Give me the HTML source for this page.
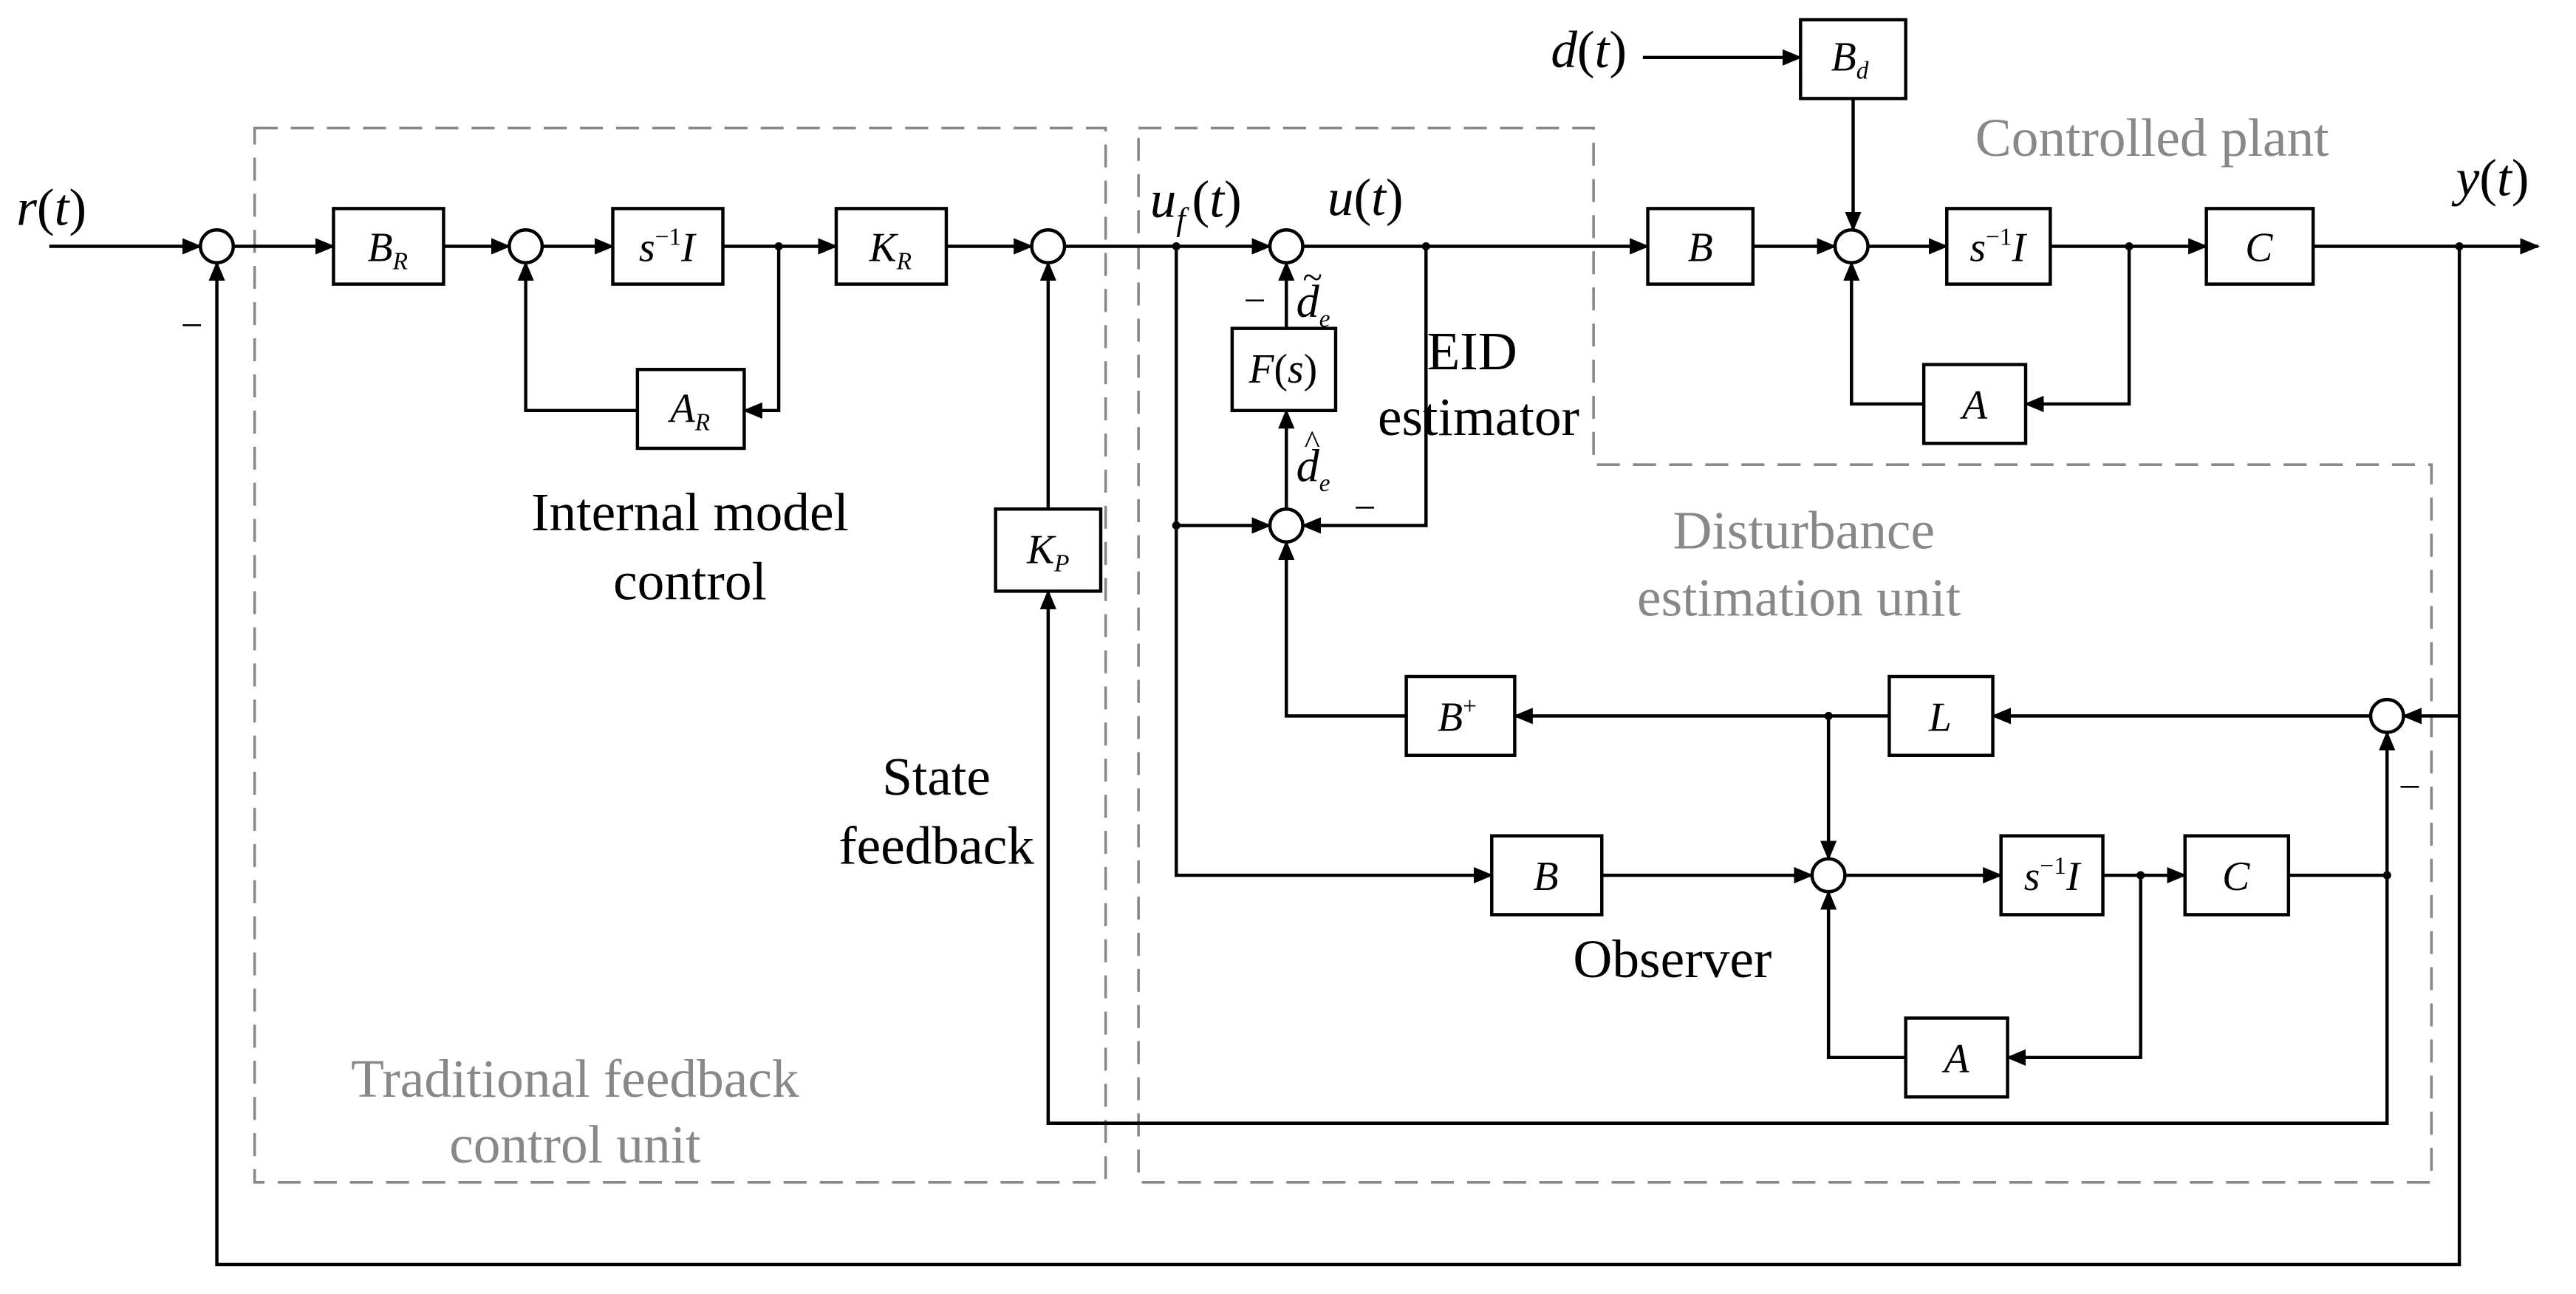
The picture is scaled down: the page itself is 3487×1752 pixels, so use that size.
<!DOCTYPE html>
<html><head><meta charset="utf-8"><style>
html,body{margin:0;padding:0;background:#fff;}
svg{display:block;width:3487px;height:1752px;}
text{font-family:"Liberation Serif",serif;}
</style></head><body>
<svg viewBox="0 0 1568 788" preserveAspectRatio="none" xmlns="http://www.w3.org/2000/svg">
<defs><marker id="a" markerWidth="12" markerHeight="10" refX="11" refY="5" orient="auto" markerUnits="userSpaceOnUse"><path d="M0,0 L12,5 L0,10 z" fill="#000"/></marker></defs>
<rect width="1568" height="788" fill="#fff"/>
<g fill="none" stroke="#888" stroke-width="1.6" stroke-dasharray="14,8">
<rect x="155" y="78" width="518" height="642"/>
<path d="M693,78 H970 V283 H1480 V720 H693 Z"/>
</g>
<g stroke="#000" stroke-width="2" fill="none">
<circle cx="132" cy="150" r="10"/><circle cx="320" cy="150" r="10"/><circle cx="638" cy="150" r="10"/>
<circle cx="783" cy="150" r="10"/><circle cx="1127" cy="150" r="10"/><circle cx="783" cy="320" r="10"/>
<circle cx="1113" cy="533" r="10"/><circle cx="1453" cy="436" r="10"/>
<rect x="203" y="127" width="67" height="46"/><rect x="373" y="127" width="67" height="46"/>
<rect x="509" y="127" width="67" height="46"/><rect x="388" y="225" width="65" height="48"/>
<rect x="606" y="310" width="64" height="50"/><rect x="750" y="200" width="63" height="50"/>
<rect x="1003" y="127" width="64" height="46"/><rect x="1185" y="127" width="63" height="46"/>
<rect x="1343" y="127" width="65" height="46"/><rect x="1171" y="222" width="62" height="48"/>
<rect x="1096" y="12" width="64" height="48"/><rect x="856" y="412" width="66" height="48"/>
<rect x="1150" y="412" width="63" height="48"/><rect x="908" y="509" width="67" height="48"/>
<rect x="1218" y="509" width="62" height="48"/><rect x="1330" y="509" width="63" height="48"/>
<rect x="1160" y="620" width="62" height="48"/>
</g>
<g stroke="#000" stroke-width="2" fill="none" marker-end="url(#a)">
<path d="M30,150 H122"/><path d="M142,150 H203"/><path d="M270,150 H310"/><path d="M330,150 H373"/>
<path d="M440,150 H509"/><path d="M474,150 V250 H453"/><path d="M388,250 H320 V160"/>
<path d="M576,150 H628"/><path d="M638,310 V160"/><path d="M1453,533 V684 H638 V360"/>
<path d="M1497,150 V770 H132 V160"/>
<path d="M648,150 H773"/><path d="M716,150 V533 H908"/><path d="M716,320 H773"/>
<path d="M793,150 H1003"/><path d="M868,150 V320 H793"/>
<path d="M783,310 V250"/><path d="M783,200 V160"/>
<path d="M1067,150 H1117"/><path d="M1128,60 V140"/><path d="M1000,35 H1096"/>
<path d="M1137,150 H1185"/><path d="M1248,150 H1343"/><path d="M1296,150 V246 H1233"/><path d="M1171,246 H1127 V160"/>
<path d="M1408,150 H1545"/>
<path d="M1497,436 H1463"/><path d="M1443,436 H1213"/><path d="M1150,436 H922"/><path d="M1113,436 V523"/>
<path d="M856,436 H783 V330"/>
<path d="M975,533 H1103"/><path d="M1123,533 H1218"/><path d="M1280,533 H1330"/>
<path d="M1303,533 V644 H1222"/><path d="M1160,644 H1113 V543"/>
<path d="M1393,533 H1453 V446"/>
</g>
<g fill="#000"><circle cx="474" cy="150" r="2.5"/><circle cx="716" cy="150" r="2.5"/><circle cx="716" cy="320" r="2.5"/><circle cx="868" cy="150" r="2.5"/><circle cx="1296" cy="150" r="2.5"/><circle cx="1497" cy="150" r="2.5"/><circle cx="1113" cy="436" r="2.5"/><circle cx="1303" cy="533" r="2.5"/><circle cx="1453" cy="533" r="2.5"/></g>
<g font-size="25" font-style="italic" text-anchor="middle">
<text x="236" y="159">B<tspan font-size="15" dy="5">R</tspan></text>
<text x="406" y="159">s<tspan font-size="15" dy="-10" font-style="normal">−1</tspan><tspan dy="10">I</tspan></text>
<text x="542" y="159">K<tspan font-size="15" dy="5">R</tspan></text>
<text x="420" y="257">A<tspan font-size="15" dy="5">R</tspan></text>
<text x="638" y="343">K<tspan font-size="15" dy="5">P</tspan></text>
<text x="781" y="233"><tspan>F</tspan><tspan font-style="normal">(</tspan>s<tspan font-style="normal">)</tspan></text>
<text x="1035" y="159">B</text>
<text x="1216" y="159">s<tspan font-size="15" dy="-10" font-style="normal">−1</tspan><tspan dy="10">I</tspan></text>
<text x="1375" y="159">C</text>
<text x="1202" y="255">A</text>
<text x="1126" y="43">B<tspan font-size="15" dy="5">d</tspan></text>
<text x="887" y="445">B<tspan font-size="15" dy="-10" font-style="normal">+</tspan></text>
<text x="1181" y="445">L</text>
<text x="941" y="542">B</text>
<text x="1249" y="542">s<tspan font-size="15" dy="-10" font-style="normal">−1</tspan><tspan dy="10">I</tspan></text>
<text x="1361" y="542">C</text>
<text x="1191" y="653">A</text>
</g>
<g font-size="32" font-style="italic">
<text x="10" y="137">r<tspan font-style="normal">(</tspan>t<tspan font-style="normal">)</tspan></text>
<text x="944" y="41">d<tspan font-style="normal">(</tspan>t<tspan font-style="normal">)</tspan></text>
<text x="1495" y="119">y<tspan font-style="normal">(</tspan>t<tspan font-style="normal">)</tspan></text>
<text x="700" y="132">u<tspan font-size="20" dy="8">f</tspan><tspan font-style="normal" dy="-8" dx="4">(</tspan>t<tspan font-style="normal">)</tspan></text>
<text x="808" y="131">u<tspan font-style="normal">(</tspan>t<tspan font-style="normal">)</tspan></text>
<text x="789" y="193" font-size="28">d<tspan font-size="15" dy="6">e</tspan></text>
<text x="789" y="293" font-size="28">d<tspan font-size="15" dy="6">e</tspan></text>
</g>
<text x="793" y="176" font-size="22">~</text>
<text x="794" y="276" font-size="20">^</text>
<g font-size="24">
<text x="110" y="206">−</text><text x="757" y="191">−</text><text x="824" y="317">−</text><text x="1460" y="487">−</text>
</g>
<g font-size="33" text-anchor="middle">
<text x="420" y="323">Internal model</text><text x="420" y="365">control</text>
<text x="570" y="484">State</text><text x="570" y="526">feedback</text>
<text x="896" y="225">EID</text><text x="900" y="265">estimator</text>
<text x="1018" y="595">Observer</text>
</g>
<g font-size="33" text-anchor="middle" fill="#888">
<text x="1310" y="95">Controlled plant</text>
<text x="1098" y="334">Disturbance</text><text x="1095" y="375">estimation unit</text>
<text x="350" y="668">Traditional feedback</text><text x="350" y="708">control unit</text>
</g>
</svg>
</body></html>
